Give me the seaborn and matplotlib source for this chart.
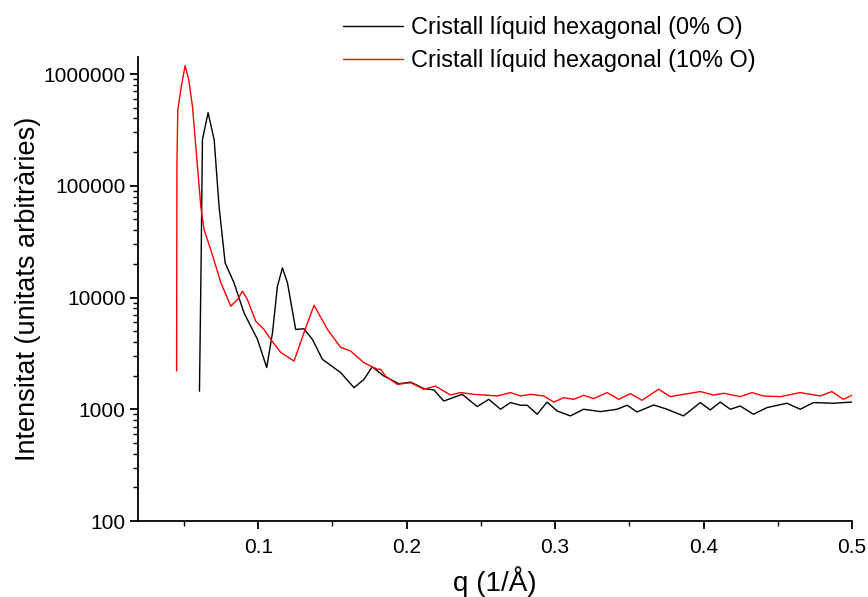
import numpy as np
import pandas as pd
import matplotlib
matplotlib.use("Agg")
import matplotlib.pyplot as plt
import matplotlib.ticker as mticker
from matplotlib.lines import Line2D
import seaborn as sns

label_0 = "Cristall líquid hexagonal (0% O)"
label_10 = "Cristall líquid hexagonal (10% O)"

q_0 = [0.0604, 0.0616, 0.0624, 0.0662, 0.0703, 0.0736, 0.0777, 0.0837, 0.0904, 0.0995,
       0.1057, 0.1096, 0.1129, 0.1163, 0.1197, 0.1252, 0.1308, 0.1365, 0.1432, 0.1555,
       0.1645, 0.1712, 0.1768, 0.1847, 0.1948, 0.2026, 0.2116, 0.2183, 0.2250, 0.2374,
       0.2475, 0.2553, 0.2632, 0.2699, 0.2767, 0.2812, 0.2879, 0.2946, 0.3013, 0.3103,
       0.3192, 0.3305, 0.3417, 0.3485, 0.3552, 0.3664, 0.3754, 0.3865, 0.3978, 0.4045,
       0.4112, 0.4180, 0.4247, 0.4336, 0.4427, 0.4561, 0.4651, 0.4740, 0.4875, 0.4999]
i_0 = [1450, 26800, 258000, 451000, 258000, 65300, 20400, 13500, 7300, 4220,
       2360, 4840, 12600, 18400, 13500, 5180, 5250, 4220, 2800, 2130,
       1560, 1850, 2400, 1980, 1690, 1750, 1530, 1490, 1185, 1360,
       1057, 1227, 1000, 1148, 1086, 1086, 902, 1160, 966, 872,
       1000, 953, 1000, 1086, 946, 1092, 1000, 872, 1148, 986,
       1160, 1000, 1069, 902, 1035, 1132, 1000, 1148, 1132, 1160]

q_10 = [0.0450, 0.0452, 0.0458, 0.0478, 0.0507, 0.0532, 0.0557, 0.0613, 0.0635, 0.0680,
        0.0748, 0.0815, 0.0860, 0.0894, 0.0927, 0.0983, 0.1039, 0.1084, 0.1151, 0.1241,
        0.1308, 0.1376, 0.1466, 0.1555, 0.1622, 0.1712, 0.1802, 0.1824, 0.1858, 0.1937,
        0.2026, 0.2116, 0.2194, 0.2295, 0.2363, 0.2452, 0.2610, 0.2699, 0.2767, 0.2834,
        0.2923, 0.2991, 0.3058, 0.3125, 0.3192, 0.3260, 0.3350, 0.3428, 0.3507, 0.3585,
        0.3697, 0.3776, 0.3865, 0.3978, 0.4067, 0.4135, 0.4247, 0.4326, 0.4404, 0.4516,
        0.4651, 0.4785, 0.4864, 0.4942, 0.4999]
i_10 = [2200, 150000, 477000, 720000, 1190000, 884000, 510000, 65300, 40500, 26800,
        13600, 8360, 9600, 11400, 9600, 6140, 5180, 4220, 3230, 2700,
        4840, 8530, 5180, 3580, 3320, 2610, 2280, 2280, 1980, 1670,
        1730, 1510, 1610, 1340, 1410, 1360, 1315, 1410, 1315, 1360,
        1315, 1160, 1270, 1227, 1333, 1246, 1410, 1227, 1380, 1203,
        1510, 1297, 1360, 1440, 1340, 1390, 1297, 1410, 1315, 1297,
        1410, 1315, 1440, 1227, 1333]

df = pd.concat([
    pd.DataFrame({"q": q_0, "I": i_0, "serie": label_0}),
    pd.DataFrame({"q": q_10, "I": i_10, "serie": label_10}),
], ignore_index=True)

sns.set_style("ticks")
plt.rcParams["font.family"] = ["Liberation Sans", "DejaVu Sans"]
plt.rcParams["text.color"] = "black"
plt.rcParams["axes.labelcolor"] = "black"

fig = plt.figure(figsize=(8.68, 5.97), dpi=100)
ax = fig.add_axes([0.159, 0.1273, 0.8226, 0.7772])

sns.lineplot(data=df, x="q", y="I", hue="serie", sort=False, estimator=None,
             palette={label_0: "black", label_10: "red"}, linewidth=1.0, ax=ax, legend=False)

ax.set_yscale("log")
ax.set_ylim(100, 1.42e6)
ax.set_xlim(0.019, 0.5)
ax.xaxis.set_major_locator(mticker.MultipleLocator(0.1))
ax.xaxis.set_minor_locator(mticker.MultipleLocator(0.05))
ax.xaxis.set_major_formatter(mticker.FuncFormatter(lambda v, p: f"{v:g}"))
ax.yaxis.set_major_locator(mticker.LogLocator(base=10, numticks=10))
ax.yaxis.set_minor_locator(mticker.LogLocator(base=10, subs=np.arange(2, 10), numticks=20))
ax.yaxis.set_major_formatter(mticker.FuncFormatter(lambda v, p: f"{int(round(v))}"))
ax.yaxis.set_minor_formatter(mticker.NullFormatter())

for s in ["top", "right"]:
    ax.spines[s].set_visible(False)
for s in ["left", "bottom"]:
    ax.spines[s].set_linewidth(1.3)
    ax.spines[s].set_color("black")

ax.tick_params(axis="both", which="major", direction="out", length=6, width=1.3,
               labelsize=15, colors="black", pad=3)
ax.tick_params(axis="x", which="major", pad=6)
ax.tick_params(axis="both", which="minor", direction="out", length=3.5, width=1.0, colors="black")

ax.set_xlabel("q (1/Å)", fontsize=20, labelpad=7, color="black")
ax.set_ylabel("Intensitat (unitats arbitràries)", fontsize=19.5, labelpad=2, color="black")

handles = [Line2D([], [], color="black", lw=1.0), Line2D([], [], color="red", lw=1.0)]
leg = fig.legend(handles, [label_0, label_10], loc="upper left",
                 bbox_to_anchor=(343 / 868, 1 - 16 / 597),
                 frameon=False, fontsize=16.9, handlelength=2.55, handletextpad=0.34,
                 labelspacing=0.42, borderaxespad=0.0, borderpad=0.0)
for t in leg.get_texts():
    t.set_color("black")

fig.savefig("out.png", dpi=100)
